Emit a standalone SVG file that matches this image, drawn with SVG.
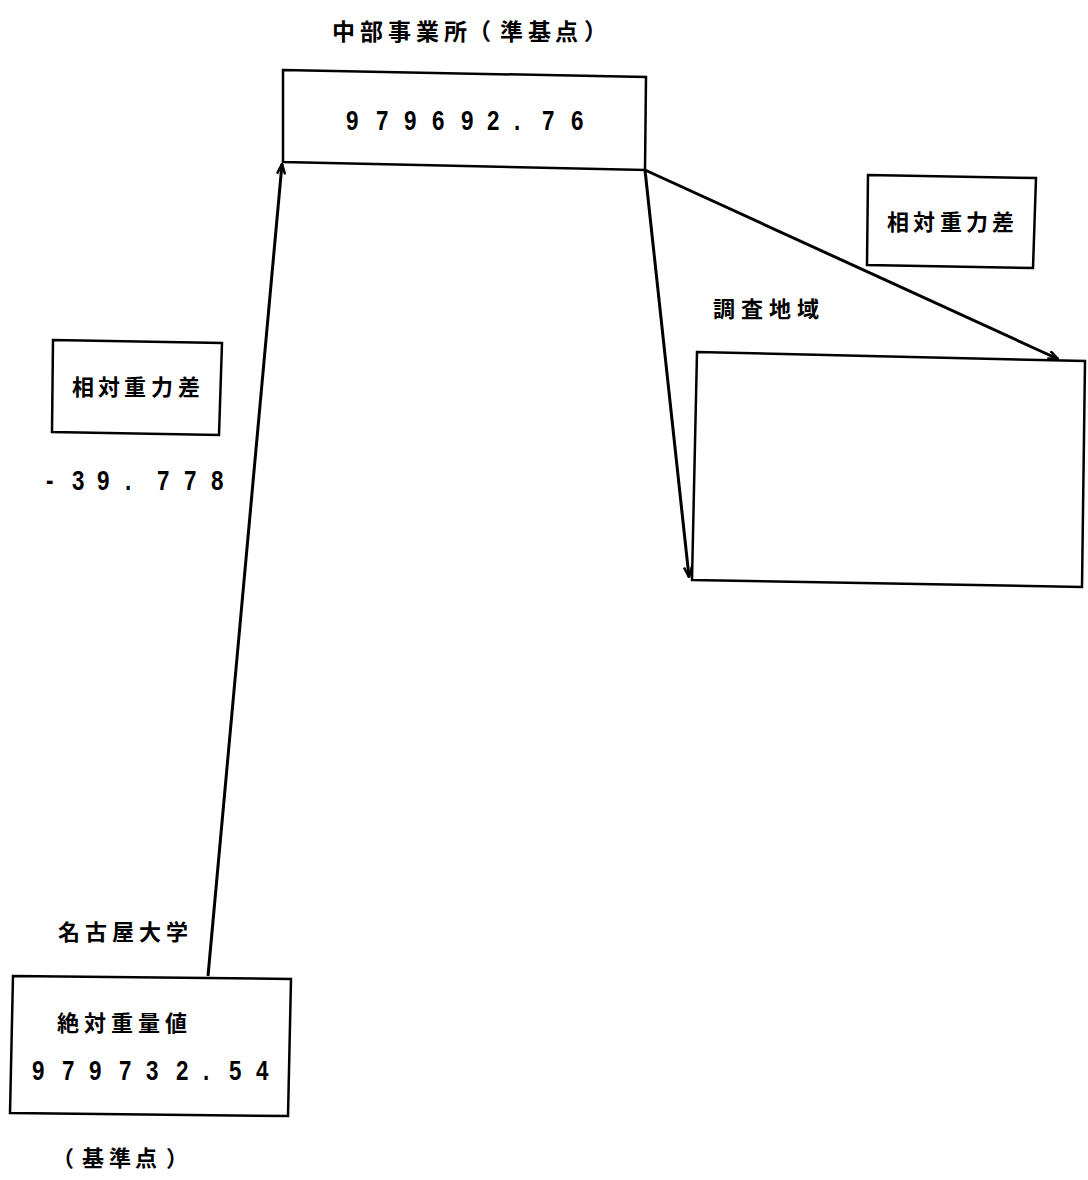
<svg xmlns="http://www.w3.org/2000/svg" width="1088" height="1180" viewBox="0 0 1088 1180">
  <style>
    .box { fill: none; stroke: #000; stroke-width: 2.5; stroke-linejoin: miter; }
    .edge { fill: none; stroke: #000; stroke-width: 3; }
    .jp { font-family: "Noto Sans CJK JP", "Noto Sans CJK SC", sans-serif; font-weight: 700; font-size: 22px; fill: #000; }
    .title { font-size: 23px; }
    .num { font-family: "Liberation Sans", Arial, sans-serif; font-weight: 700; font-size: 28px; fill: #000; }
  </style>
  <defs>
    <marker id="arrow" viewBox="0 0 12 10" refX="11" refY="5" markerWidth="12" markerHeight="10" markerUnits="userSpaceOnUse" orient="auto">
      <path d="M1,1 L11,5 L1,9" fill="none" stroke="#000" stroke-width="2.5"/>
    </marker>
  </defs>
  <rect width="1088" height="1180" fill="#fff"/>

  <!-- sub-reference station -->
  <g id="chubu-office">
    <text class="jp title" x="332 360 388 416 444 468 500 528 555 584" y="40">中部事業所（準基点）</text>
    <polygon class="box" points="283,70 646,77 645,170 283,162"/>
    <!-- condensed digits: x values are pre-divided by the 0.8 horizontal scale -->
    <text class="num" transform="scale(0.8,1)" x="432.5 470 505 540 576.25 608.75 642.5 677.5 713.75" y="130">979692.76</text>
  </g>

  <!-- relative gravity difference, right -->
  <g id="diff-right">
    <polygon class="box" points="868,175 1036,178 1033,268 867,265"/>
    <text class="jp" x="887 913 940 966 992" y="230">相対重力差</text>
  </g>

  <!-- survey area -->
  <g id="survey-area">
    <text class="jp" x="713 741 769 797" y="317">調査地域</text>
    <polygon class="box" points="697,352 1085,361 1082,587 692,580"/>
  </g>

  <!-- relative gravity difference, left -->
  <g id="diff-left">
    <polygon class="box" points="53,340 222,343 219,435 52,432"/>
    <text class="jp" x="72 98 124 151 178" y="395">相対重力差</text>
    <text class="num" transform="scale(0.8,1)" x="57.5 90 121.25 156.25 196.25 230 263.75" y="490">-39.778</text>
  </g>

  <!-- reference station -->
  <g id="nagoya-univ">
    <text class="jp" x="58 85 112 139 166" y="940">名古屋大学</text>
    <polygon class="box" points="13,976 291,979 288,1116 10,1113"/>
    <text class="jp" x="57 84 111 138 165" y="1031">絶対重量値</text>
    <text class="num" transform="scale(0.8,1)" x="40 77.5 111.25 148.75 182.5 220 253.75 286.25 320" y="1080">979732.54</text>
    <text class="jp" x="52 82 109 135 166" y="1166">（基準点）</text>
  </g>

  <g id="connectors">
    <line class="edge" x1="208" y1="976" x2="282" y2="164" marker-end="url(#arrow)"/>
    <line class="edge" x1="645" y1="170" x2="689" y2="577" marker-end="url(#arrow)"/>
    <line class="edge" x1="645" y1="170" x2="1058" y2="359" marker-end="url(#arrow)"/>
  </g>
</svg>
